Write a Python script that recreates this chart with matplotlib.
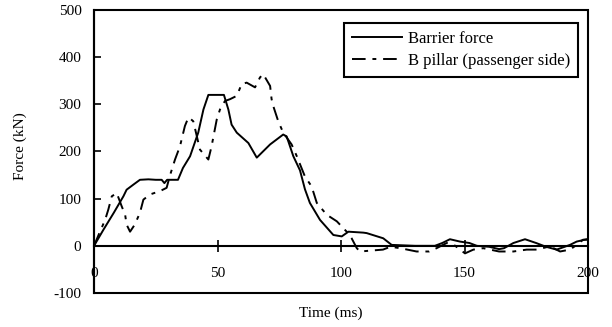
import matplotlib
matplotlib.use("Agg")
import matplotlib.pyplot as plt
from matplotlib.patches import Rectangle

plt.rcParams['font.family'] = ['Liberation Serif', 'DejaVu Serif']
plt.rcParams['axes.unicode_minus'] = False

# barrier load cell force (kN) vs time (ms)
barrier_t = [0, 3.8, 8, 11.9, 13.2, 16, 18.6, 22, 25, 27.4, 28.5, 29.6, 34, 36,
             38.9, 42.2, 44.3, 46.3, 52.6, 54.4, 55.7, 57.8, 62.5, 65.9, 71.3,
             76.6, 78, 80.7, 83.4, 85.4, 87.4, 91.5, 96.9, 100.3, 103, 109,
             110.4, 117.1, 120.5, 130, 138, 141, 144.1, 148.2, 152, 155, 160,
             164, 166, 169.8, 174.5, 179, 183, 187.3, 192.7, 195.4, 199.5, 200]
barrier_f = [0, 34, 70, 105, 119, 130, 140, 141, 140, 140, 133, 140, 140, 165,
             190, 240, 289, 320, 320, 289, 257, 240, 218, 187, 215,
             236, 232, 190, 160, 120, 91, 55, 23, 20, 30, 28,
             27, 16, 2, 0, 0, 6, 14, 9, 6, 0, -2,
             -7, -5, 6, 14, 6, -2, -8, 2, 9, 14, 14]

# B pillar (passenger side) force (kN) vs time (ms)
pillar_t = [0, 2, 4.5, 5.8, 7.2, 9.2, 11.2, 12.6, 13.2, 14.6,
            16.5, 18.6, 20, 22.7, 26.7, 29.4, 30.8, 32.8, 34.8, 36.8,
            38.2, 38.9, 40.2, 41.6, 42.9, 46.3, 47.6, 49.7, 51, 53,
            55.1, 57.8, 59.8, 61.8, 65.2, 67.2, 68.5, 71.3, 71.9, 72.6,
            74.6, 76.6, 80, 82.1, 85.4, 88.1, 90.2, 94.2, 98.3, 102.3,
            104.3, 106.4, 107.7, 117, 120, 124, 130.6, 135.7, 138.7, 142.8,
            145.5, 148.2, 150.2, 153.6, 157.6, 164, 169.8, 175.2, 179.3, 184.6,
            188.7, 192.7, 195.4, 198, 200]
pillar_f = [0, 25, 55, 77, 105, 112, 84, 66, 45, 30,
            45, 70, 98, 109, 116, 123, 150, 183, 211, 254,
            272, 270, 264, 233, 204, 183, 211, 268, 289, 307,
            311, 318, 343, 346, 336, 357, 364, 339, 311, 296,
            264, 240, 215, 190, 147, 126, 91, 66, 52, 30,
            16, -5, -12, -8, -2, -5, -12, -12, -5, 6,
            3, -8, -16, -8, -5, -12, -12, -8, -8, -1,
            -12, -8, 2, 13, 13]

fig = plt.figure(figsize=(6.12, 3.27), dpi=100)
ax = fig.add_axes([94 / 612, 34 / 327, 494 / 612, 283 / 327])

ax.plot(barrier_t, barrier_f, color='black', lw=1.4, label='Barrier force')
ax.plot(pillar_t, pillar_f, color='black', lw=1.4, linestyle=(0, (7, 3.5, 2, 3.5)),
        label='B pillar (passenger side)')

ax.set_xlim(0, 200)
ax.set_ylim(-100, 500)
ax.set_xticks([0, 50, 100, 150, 200])
ax.set_yticks([-100, 0, 100, 200, 300, 400, 500])

# x axis runs along zero force, frame drawn separately
ax.spines['bottom'].set_position(('data', 0))
for s in ax.spines.values():
    s.set_linewidth(1.5)
ax.spines['top'].set_visible(False)
ax.spines['right'].set_visible(False)
ax.add_patch(Rectangle((0, 0), 1, 1, transform=ax.transAxes, fill=False,
                       lw=1.5, edgecolor='black', clip_on=False, zorder=5))

ax.tick_params(axis='x', direction='inout', length=8, width=1.2, pad=11,
               labelsize=11)
ax.tick_params(axis='y', direction='in', length=5, width=1.2, pad=9,
               labelsize=11)

ax.set_ylabel('Force (kN)', fontsize=11)
ax.yaxis.set_label_coords(-0.135, 0.52)
fig.text(331 / 612, 1 - 313 / 327, 'Time (ms)', ha='center', va='center',
         fontsize=11)

leg = ax.legend(loc='upper right', bbox_to_anchor=(0.98, 0.954), fontsize=12,
                fancybox=False, framealpha=1, edgecolor='black',
                handlelength=3.0, handletextpad=0.4, borderpad=0.45,
                labelspacing=0.4, borderaxespad=0)
leg.get_frame().set_linewidth(1.5)

fig.savefig('out.png', dpi=100)
